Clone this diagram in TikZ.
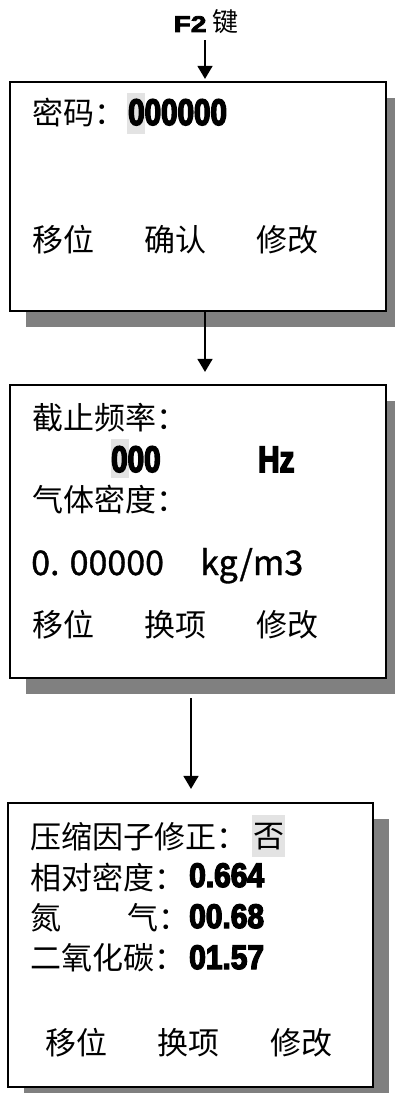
\documentclass[tikz,border=0pt]{standalone}
\usepackage{fontspec}
\setmainfont{Noto Sans CJK SC}
\newfontfamily\impact[FakeStretch=0.8,FakeBold=4]{Liberation Sans}
\newfontfamily\impactw[FakeStretch=0.88,FakeBold=4]{Liberation Sans}
\newfontfamily\blackf[FakeStretch=1.25,FakeBold=3.5]{Liberation Sans}
\newfontfamily\hei[FakeBold=1]{Noto Sans CJK SC}
\usetikzlibrary{arrows.meta,shadows}
\definecolor{shadowgray}{HTML}{808080}
\definecolor{hilite}{HTML}{E3E3E3}
\tikzset{
  screen/.style={draw=black, line width=2.2pt, fill=white, inner sep=0pt, rectangle,
    drop shadow={shadow xshift=16pt, shadow yshift=-16pt, fill=shadowgray, opacity=1}},
  cn/.style={inner sep=0pt, anchor=west, font=\fontsize{31pt}{34pt}\selectfont},
  num/.style={inner sep=0pt, anchor=base west, font=\fontsize{37pt}{40pt}\impact\bfseries},
  numsm/.style={inner sep=0pt, anchor=base west, font=\fontsize{34pt}{36pt}\impactw\bfseries},
  latin/.style={inner sep=0pt, anchor=base west, font=\fontsize{34pt}{36pt}\hei},
  flow/.style={line width=1.6pt, -{Triangle[length=13pt,width=15pt]}},
  hl/.style={fill=hilite}
}
\begin{document}
\begin{tikzpicture}[x=1pt,y=-1pt]
\useasboundingbox (0,0) rectangle (395,1093);
% top label
\node[inner sep=0pt, font=\fontsize{26pt}{30pt}\selectfont] (f2) at (206,22) {{\fontsize{22.5pt}{26pt}\blackf\bfseries F2} 键};
% screens
\node[screen, minimum width=376pt, minimum height=229pt] (box1) at (198,196.5) {};
\node[screen, minimum width=376pt, minimum height=293pt] (box2) at (198,531.5) {};
\node[screen, minimum width=365pt, minimum height=284pt] (box3) at (190.5,945) {};
% highlights
\fill[hl] (127,93) rectangle (145,134);
\fill[hl] (111,439) rectangle (129,478);
\fill[hl] (252,815) rectangle (285,857);
% box 1 texts
\node[cn] (t11) at (32,113) {密码：};
\node[num] (t12) at (128,125) {000000};
\node[cn] (t13) at (32,240) {移位};
\node[cn] (t14) at (144,240) {确认};
\node[cn] (t15) at (256,240) {修改};
% box 2 texts
\node[cn] (t21) at (32,418) {截止频率：};
\node[num] (t22) at (111,472) {000};
\node[num] (t23) at (258,472) {Hz};
\node[cn] (t24) at (32,500) {气体密度：};
\node[latin] (t25) at (31,575) {0. 00000};
\node[latin] (t26) at (200,575) {kg/m3};
\node[cn] (t27) at (32,625) {移位};
\node[cn] (t28) at (144,625) {换项};
\node[cn] (t29) at (256,625) {修改};
% box 3 texts
\node[cn] (t31) at (30,837) {压缩因子修正：};
\node[cn] (t32) at (253,837) {否};
\node[cn] (t33) at (30,878) {相对密度：};
\node[numsm] (t34) at (189,887) {0.664};
\node[cn] (t35) at (30,918) {氮};
\node[cn] (t36) at (127,918) {气：};
\node[numsm] (t37) at (189,928) {00.68};
\node[cn] (t38) at (30,958) {二氧化碳：};
\node[numsm] (t39) at (189,969) {01.57};
\node[cn] (t3a) at (45,1043) {移位};
\node[cn] (t3b) at (157,1043) {换项};
\node[cn] (t3c) at (270,1043) {修改};
% connectors
\coordinate (a1s) at (205,40);
\coordinate (a2s) at (205,311);
\coordinate (a3s) at (191,698);
\draw[flow, shorten >=2pt] (a1s) -- (a1s |- box1.north);
\draw[flow, shorten >=12pt] (a2s) -- (a2s |- box2.north);
\draw[flow, shorten >=13pt] (a3s) -- (a3s |- box3.north);
\end{tikzpicture}
\end{document}
